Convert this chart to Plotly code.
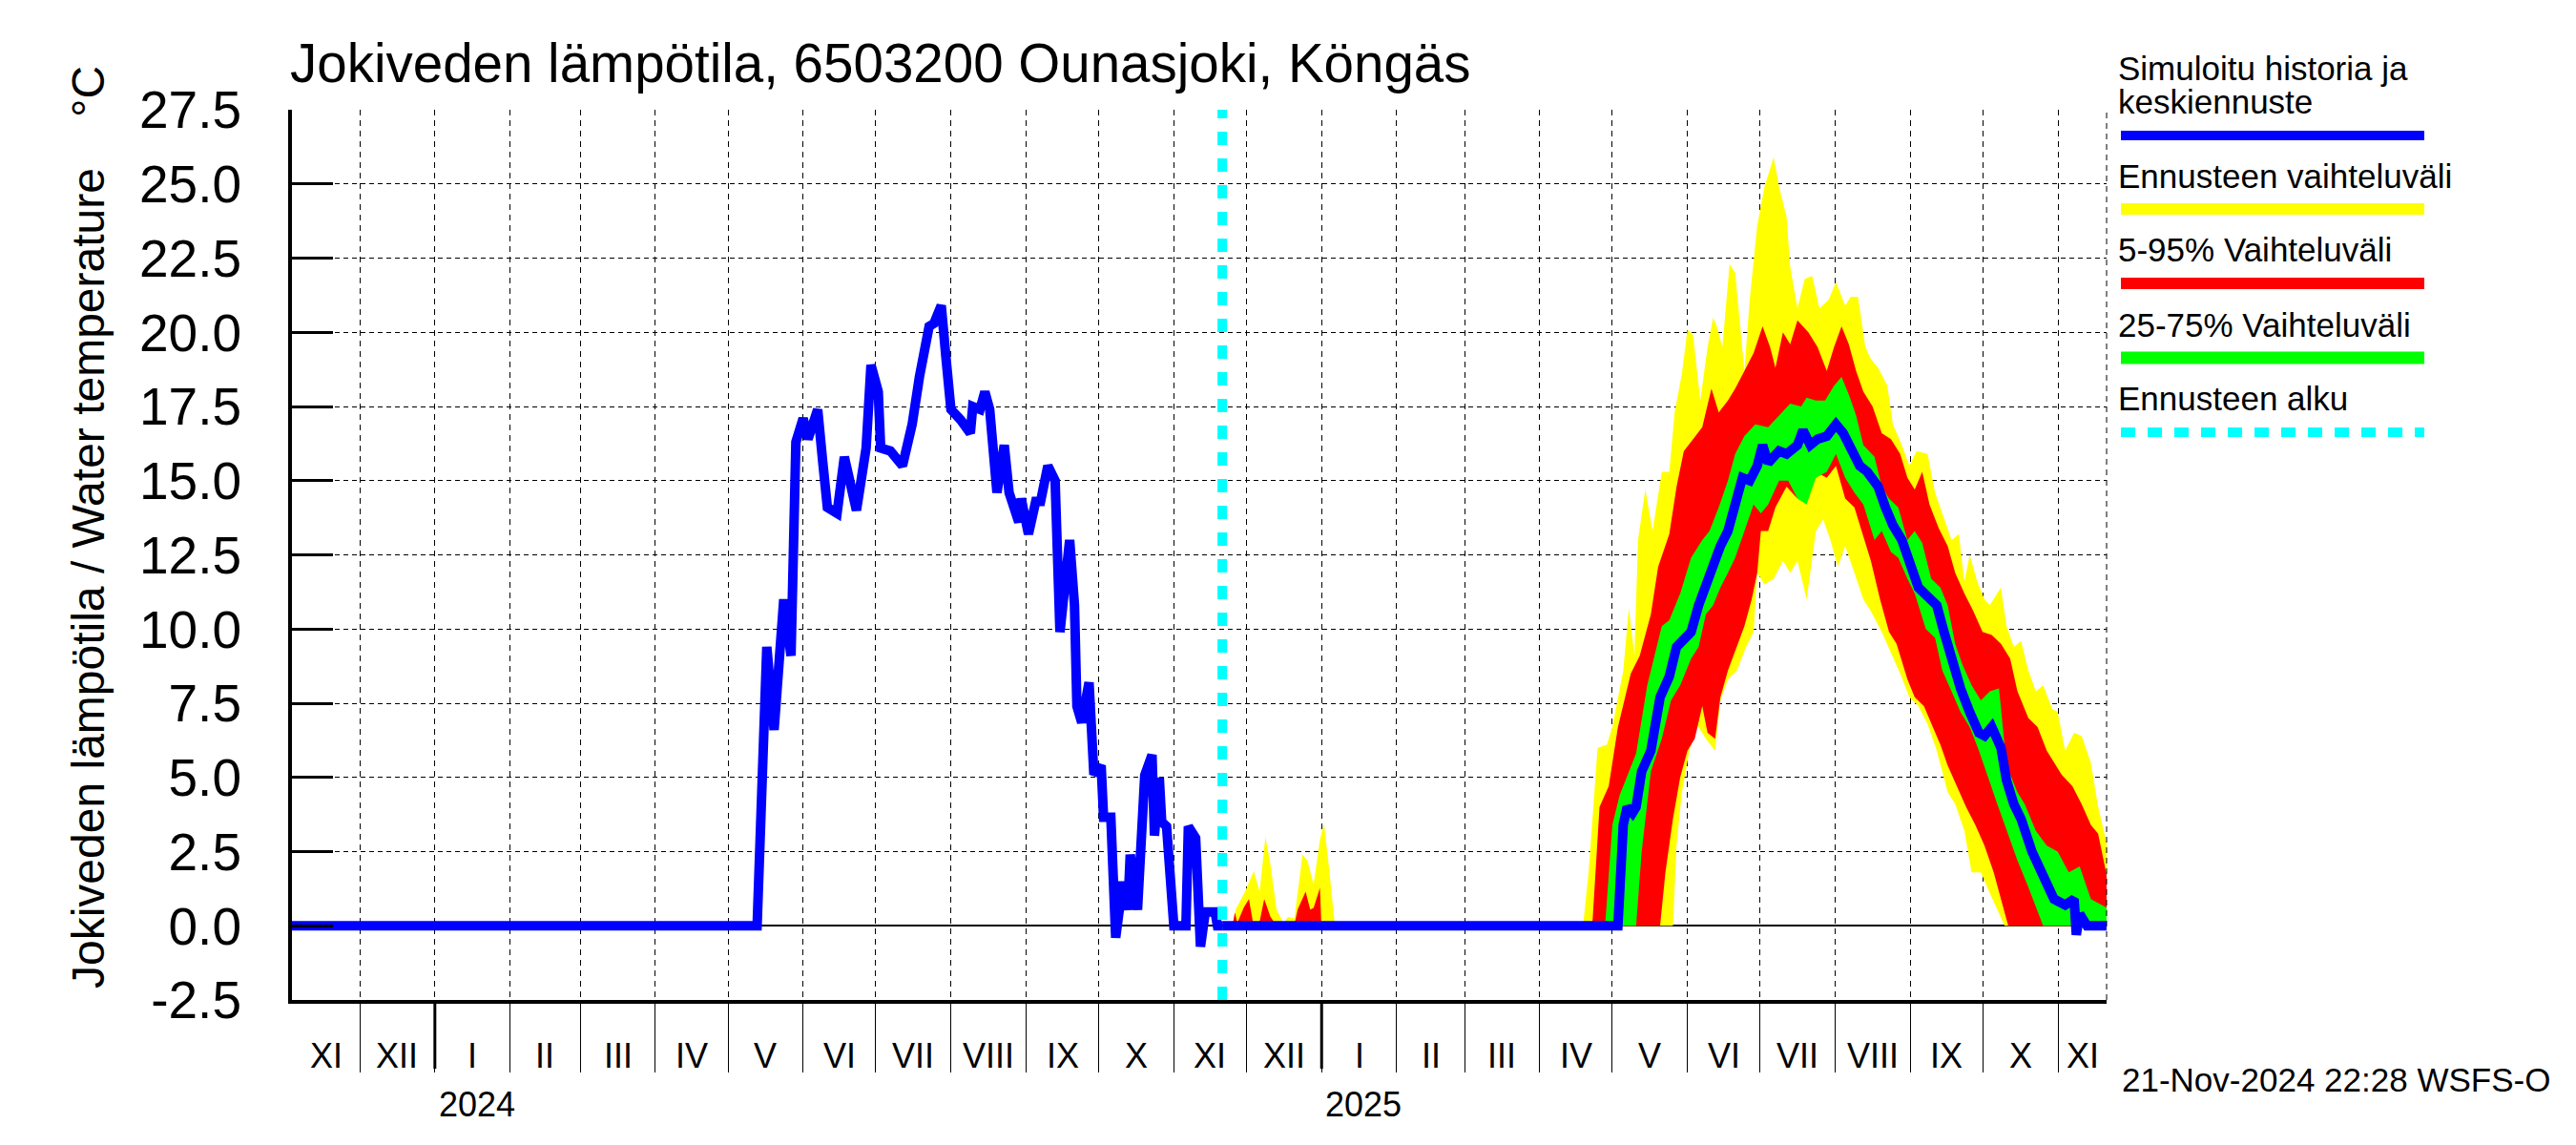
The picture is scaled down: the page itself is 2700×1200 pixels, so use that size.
import numpy as np
import pandas as pd
import plotly.graph_objects as go

# ---------------- data ----------------
X_START = "2023-11-03"
X_END = "2025-11-21"
FC_START = "2024-11-21"
SEASON_BASE = "2025-05-01"   # season arrays: days since this date
WINTER_BASE = "2024-11-21"   # winter arrays: days since this date

HIST_DATES = ["2023-11-03", "2024-05-13", "2024-05-17", "2024-05-20", "2024-05-24", "2024-05-27",
              "2024-05-29", "2024-06-01", "2024-06-03", "2024-06-07", "2024-06-09", "2024-06-11",
              "2024-06-15", "2024-06-18", "2024-06-23", "2024-06-27", "2024-06-29", "2024-07-02",
              "2024-07-03", "2024-07-07", "2024-07-12", "2024-07-16", "2024-07-19", "2024-07-23",
              "2024-07-25", "2024-07-28", "2024-07-30", "2024-08-01", "2024-08-05", "2024-08-09",
              "2024-08-10", "2024-08-13", "2024-08-15", "2024-08-17", "2024-08-20", "2024-08-23",
              "2024-08-25", "2024-08-29", "2024-08-30", "2024-09-02", "2024-09-05", "2024-09-07",
              "2024-09-10", "2024-09-13", "2024-09-15", "2024-09-19", "2024-09-21", "2024-09-22",
              "2024-09-24", "2024-09-27", "2024-09-29", "2024-10-02", "2024-10-03", "2024-10-06",
              "2024-10-08", "2024-10-11", "2024-10-13", "2024-10-14", "2024-10-17", "2024-10-20",
              "2024-10-23", "2024-10-24", "2024-10-26", "2024-10-27", "2024-10-29", "2024-11-01",
              "2024-11-06", "2024-11-07", "2024-11-10", "2024-11-12", "2024-11-14", "2024-11-18",
              "2024-11-19", "2024-11-21"]
HIST_VALS = [0, 0, 9.4, 6.6, 11.0, 9.1, 16.3, 17.1, 16.4, 17.4, 15.7, 14.1, 13.9, 15.8, 14.0, 16.1,
             18.9, 18.0, 16.1, 16.0, 15.5, 16.9, 18.5, 20.2, 20.3, 20.9, 19.1, 17.4, 17.05, 16.6,
             17.5, 17.4, 18.0, 17.4, 14.6, 16.2, 14.6, 13.6, 14.4, 13.2, 14.3, 14.3, 15.5, 15.0,
             9.9, 13.0, 10.8, 7.4, 6.85, 8.2, 5.1, 5.4, 3.66, 3.66, -0.4, 1.48, 0.54, 2.4, 0.54,
             5.07, 5.76, 3.04, 4.99, 3.5, 3.35, 0, 0, 3.35, 2.96, -0.7, 0.47, 0.47, 0, 0]

# forecast median (days since SEASON_BASE)
MED_D = [-161, 2.3, 4.5, 6.1, 8.3, 9.8, 12.1, 15.9, 19.7, 23.5, 26.5, 29.5, 32.5, 35.6, 38.6, 41.6,
         44.6, 47.7, 50.7, 53.7, 56.7, 59.8, 62.0, 64.3, 68.8, 71.9, 76.4, 78.7, 81.7, 84.7, 88.5,
         92.3, 95.3, 99.1, 102.1, 105.2, 109.7, 112.7, 115.8, 119.5, 123.3, 126.3, 130.1, 133.9,
         136.9, 140.0, 143.7, 147.5, 151.3, 153.6, 156.6, 160.4, 162.7, 165.7, 168.7, 173.2,
         177.8, 182.3, 186.9, 190.6, 191.5, 192.9, 195.9, 204.3]
MED_V = [0, 0, 3.4, 4.0, 3.8, 4.0, 5.2, 5.9, 7.7, 8.4, 9.4, 9.6, 9.9, 10.8, 11.5, 12.3, 12.8, 13.3,
         14.1, 15.1, 15.0, 15.5, 16.2, 15.6, 16.0, 15.9, 16.2, 16.7, 16.2, 16.4, 16.5, 16.9, 16.6,
         16.0, 15.5, 15.3, 14.8, 14.1, 13.5, 13.0, 12.1, 11.4, 11.1, 10.8, 9.9, 9.0, 8.0, 7.2,
         6.5, 6.4, 6.7, 6.0, 4.9, 4.1, 3.6, 2.5, 1.6, 0.9, 0.7, 0.9, -0.3, 0.4, 0, 0]

# whole ensemble range (yellow)
YEL_HI_D = [-12.1, -9.8, -6.1, -2.3, 0, 4.5, 6.8, 9.1, 10.6, 13.6, 16.6, 20.4, 23.5, 25.7, 28.7,
            31.0, 33.3, 36.3, 39.3, 41.6, 43.1, 45.4, 48.4, 50.7, 54.5, 56.7, 59.8, 62.8, 66.6,
            68.8, 71.9, 73.4, 76.4, 79.4, 82.5, 85.5, 89.3, 92.3, 96.1, 98.4, 101.4, 104.4, 106.7,
            109.7, 113.5, 115.8, 119.5, 122.6, 125.6, 130.1, 133.2, 136.9, 140.0, 143.0, 145.3,
            147.5, 150.6, 153.6, 155.8, 160.4, 162.7, 165.7, 168.7, 171.7, 174.8, 177.8, 181.6,
            183.8, 186.9, 190.6, 193.7, 197.5, 200.5, 204.3]
YEL_HI_V = [0, 1.8, 6.0, 6.1, 6.7, 8.6, 10.7, 9.1, 13.0, 14.7, 13.3, 15.3, 15.3, 17.3, 18.6, 20.1,
            19.9, 17.7, 19.5, 20.5, 20.2, 19.5, 22.3, 22.0, 18.7, 21.1, 23.6, 24.9, 25.9, 24.9, 23.9,
            22.2, 20.8, 21.8, 21.9, 20.8, 21.1, 21.7, 20.9, 21.2, 21.2, 19.5, 19.1, 18.8, 18.2,
            16.9, 16.2, 15.5, 16.0, 15.9, 14.6, 13.7, 13.0, 13.2, 11.6, 12.5, 11.6, 11.0, 10.8,
            11.4, 10.1, 9.4, 9.6, 8.6, 7.9, 8.1, 7.3, 7.2, 5.9, 6.5, 6.4, 5.5, 4.0, 2.7]
YEL_LO_D = [-12.1, 25.0, 26.5, 28.7, 31.8, 34.8, 38.6, 42.4, 44.6, 47.7, 51.4, 55.2, 58.3, 59.8,
            62.8, 66.6, 70.4, 73.4, 76.4, 80.2, 84.0, 87.0, 90.0, 93.1, 96.1, 99.9, 103.6, 106.7,
            111.2, 115.0, 118.8, 122.6, 126.3, 130.1, 133.9, 138.4, 141.5, 145.3, 148.3, 152.1,
            155.8, 159.6, 161.9, 204.3]
YEL_LO_V = [0, 0, 2.7, 4.5, 5.9, 6.8, 6.3, 5.9, 7.6, 8.3, 8.6, 9.4, 9.9, 11.9, 11.5, 11.7, 12.3,
            11.9, 12.3, 11.0, 13.3, 13.7, 13.0, 12.1, 12.8, 11.9, 11.0, 10.6, 9.9, 9.2, 8.5, 7.7,
            7.4, 6.8, 5.9, 4.5, 4.1, 3.2, 1.8, 1.8, 1.1, 0.4, 0, 0]

# 5-95 % range (red)
RED_HI_D = [-8.3, -5.3, -1.5, 2.3, 7.6, 11.3, 15.9, 18.9, 23.5, 26.5, 29.5, 33.3, 37.1, 40.9, 43.9,
            47.7, 50.7, 54.5, 58.3, 62.0, 65.1, 67.3, 70.4, 73.4, 76.4, 80.9, 84.7, 88.5, 91.5,
            94.6, 97.6, 100.6, 103.6, 107.4, 111.2, 115.0, 118.8, 121.8, 124.8, 127.9, 130.9,
            134.7, 138.4, 141.5, 145.3, 149.0, 152.8, 156.6, 160.4, 164.2, 167.2, 171.7, 175.5,
            179.3, 183.1, 185.4, 189.9, 193.7, 197.5, 200.5, 204.3]
RED_HI_V = [0, 4.0, 4.7, 6.7, 8.5, 9.1, 10.5, 12.1, 13.2, 14.8, 16.0, 16.4, 16.8, 18.1, 17.3, 17.7,
            18.1, 18.7, 19.3, 20.2, 19.5, 18.8, 20.0, 19.6, 20.4, 20.0, 19.5, 18.7, 19.5, 20.2, 19.6,
            18.7, 18.0, 17.5, 16.6, 16.4, 15.9, 15.1, 14.7, 15.3, 14.2, 13.4, 12.8, 11.9, 11.2, 10.6,
            9.9, 9.8, 9.5, 9.0, 7.9, 7.0, 6.7, 5.9, 5.4, 5.1, 4.7, 4.1, 3.4, 3.1, 1.6]
RED_LO_D = [-8.3, 19.7, 21.9, 25.0, 28.0, 31.0, 34.0, 37.1, 39.3, 42.4, 44.6, 47.7, 51.4, 54.5,
            57.5, 59.8, 61.3, 64.3, 67.3, 71.9, 76.4, 79.4, 84.0, 88.5, 92.3, 96.1, 99.9, 102.9,
            106.7, 110.5, 114.2, 117.3, 121.8, 124.8, 128.6, 132.4, 135.4, 138.4, 142.2, 146.0,
            149.8, 153.6, 157.4, 161.1, 163.4, 204.3]
RED_LO_V = [0, 0, 1.8, 3.6, 5.0, 5.9, 6.3, 7.4, 6.5, 6.3, 7.7, 8.6, 9.4, 10.1, 11.0, 11.9, 13.3,
            13.3, 14.1, 14.8, 14.4, 14.6, 15.3, 15.1, 15.5, 14.4, 14.1, 13.3, 12.3, 11.0, 9.9, 9.5,
            8.3, 7.7, 7.4, 6.7, 6.1, 5.4, 4.7, 4.0, 3.4, 2.7, 1.8, 0.7, 0, 0]

# 25-75 % range (green)
GRN_HI_D = [-3.0, 0, 3.0, 6.8, 9.8, 14.4, 17.4, 20.4, 23.5, 28.0, 32.5, 37.1, 40.1, 43.9, 47.7,
            50.7, 54.5, 59.0, 64.3, 68.8, 73.4, 77.9, 80.2, 84.0, 87.8, 91.5, 94.6, 97.6, 100.6,
            103.6, 108.2, 111.2, 114.2, 118.0, 121.8, 124.8, 127.9, 131.6, 135.4, 138.4, 141.5,
            144.5, 148.3, 152.1, 155.8, 159.6, 162.7, 167.2, 170.2, 174.8, 179.3, 183.8, 188.4,
            192.9, 197.5, 204.3]
GRN_HI_V = [0, 3.4, 4.4, 5.2, 5.8, 8.1, 9.1, 10.1, 10.3, 11.2, 12.4, 13.0, 13.3, 14.1, 15.0, 15.9,
            16.5, 16.9, 16.8, 17.2, 17.6, 17.5, 17.8, 17.7, 17.7, 18.2, 18.5, 17.9, 17.2, 16.2, 15.8,
            14.8, 14.4, 14.1, 13.0, 13.3, 12.9, 11.7, 11.4, 10.8, 9.5, 8.8, 8.1, 7.6, 7.9, 8.0, 5.4,
            4.5, 4.1, 3.2, 2.7, 2.5, 1.8, 2.0, 0.9, 0.6]
GRN_LO_D = [-3.0, 9.8, 12.1, 15.9, 20.4, 24.2, 28.0, 32.5, 35.6, 38.6, 41.6, 44.6, 47.7, 50.7,
            54.5, 58.3, 61.3, 64.3, 68.8, 72.6, 76.4, 80.2, 84.0, 88.5, 92.3, 96.1, 99.9, 103.6,
            108.2, 111.2, 115.0, 118.0, 121.8, 124.8, 129.4, 133.2, 136.2, 140.0, 143.7, 147.5,
            151.3, 155.1, 158.9, 162.7, 167.2, 171.7, 175.5, 177.8, 204.3]
GRN_LO_V = [0, 0, 2.5, 5.2, 6.3, 7.6, 8.1, 9.0, 9.4, 10.5, 10.8, 11.4, 11.9, 12.4, 13.3, 14.2, 13.9,
            14.2, 15.0, 15.0, 14.4, 14.2, 15.1, 15.3, 15.9, 15.1, 14.6, 14.2, 13.0, 13.3, 12.6, 12.4,
            11.7, 11.2, 10.0, 9.7, 8.6, 7.9, 7.2, 6.7, 5.9, 5.0, 4.1, 3.2, 2.2, 1.3, 0.5, 0, 0]

# early-winter bumps (days since WINTER_BASE), lower bound is 0
YEL_W_D = [4.2, 5.5, 9.4, 13.0, 15.4, 17.8, 19.9, 22.4, 25.2, 27.1, 29.8, 33.1, 35.1, 37.7, 40.3,
           42.0, 44.2, 46.2, 46.5]
YEL_W_V = [0, 0.55, 1.15, 1.85, 1.15, 3.0, 2.06, 0.55, 0.1, 0.3, 0.25, 2.4, 2.2, 1.4, 2.9, 3.45,
           1.85, 0.1, 0]
RED_W_D = [4.2, 5.2, 6.2, 8.8, 11.0, 12.7, 15.3, 17.3, 19.9, 22.1, 29.8, 31.1, 34.4, 36.3, 37.7,
           40.3, 40.9]
RED_W_V = [0, 0.45, 0.1, 0.6, 0.9, 0.1, 0.1, 0.9, 0.3, 0.05, 0.05, 0.55, 1.15, 0.55, 0.6, 1.28, 0]

Y_TICKS = [-2.5, 0.0, 2.5, 5.0, 7.5, 10.0, 12.5, 15.0, 17.5, 20.0, 22.5, 25.0, 27.5]
ROMAN = ["I", "II", "III", "IV", "V", "VI", "VII", "VIII", "IX", "X", "XI", "XII"]
YEARS = ["2024", "2025"]

TITLE = "Jokiveden lämpötila, 6503200 Ounasjoki, Köngäs"
Y_TITLE = "Jokiveden lämpötila / Water temperature\u00a0\u00a0\u00a0\u00a0°C"
STAMP = "21-Nov-2024 22:28 WSFS-O"
LEGEND = [("Simuloitu historia ja", "keskiennuste", "#0000ff"),
          ("Ennusteen vaihteluväli", None, "#ffff00"),
          ("5-95% Vaihteluväli", None, "#ff0000"),
          ("25-75% Vaihteluväli", None, "#00ff00"),
          ("Ennusteen alku", None, "#00ffff")]

# ---------------- geometry (page pixels; page body has an 8 px margin) ----------------
FONT = "Liberation Sans, Arial, Helvetica, sans-serif"
OFF = 8
W, H = 2700 - 2 * OFF, 1200 - 2 * OFF
PL, PR, PT, PB = 306, 2208, 115, 1048   # plot box in page pixels


def px_x(px):
    return (px - PL) / (PR - PL)


def px_y(py):
    return (PB - py) / (PB - PT)


def days(base, d):
    return pd.Timestamp(base) + pd.to_timedelta(np.asarray(d, dtype=float), unit="D")


def band(hd, hv, ld, lv, base):
    xs = list(days(base, hd)) + list(days(base, ld))[::-1]
    ys = list(hv) + list(lv)[::-1]
    return xs, ys


fig = go.Figure()


def add_fill(xs, ys, col):
    fig.add_trace(go.Scatter(x=xs, y=ys, fill="toself", fillcolor=col, mode="lines",
                             line=dict(width=0, color=col), hoverinfo="skip"))


add_fill(*band(YEL_HI_D, YEL_HI_V, YEL_LO_D, YEL_LO_V, SEASON_BASE), "#ffff00")
add_fill(*band(YEL_W_D, YEL_W_V, [YEL_W_D[0], YEL_W_D[-1]], [0, 0], WINTER_BASE), "#ffff00")
add_fill(*band(RED_HI_D, RED_HI_V, RED_LO_D, RED_LO_V, SEASON_BASE), "#ff0000")
add_fill(*band(RED_W_D, RED_W_V, [RED_W_D[0], RED_W_D[-1]], [0, 0], WINTER_BASE), "#ff0000")
add_fill(*band(GRN_HI_D, GRN_HI_V, GRN_LO_D, GRN_LO_V, SEASON_BASE), "#00ff00")

fig.add_trace(go.Scatter(x=pd.to_datetime(HIST_DATES), y=HIST_VALS, mode="lines",
                         line=dict(color="#0000ff", width=10), hoverinfo="skip"))
fig.add_trace(go.Scatter(x=days(SEASON_BASE, MED_D), y=MED_V, mode="lines",
                         line=dict(color="#0000ff", width=10), hoverinfo="skip"))
fig.add_trace(go.Scatter(x=[pd.Timestamp(FC_START)] * 2, y=[Y_TICKS[0], Y_TICKS[-1]], mode="lines",
                         line=dict(color="#00ffff", width=10, dash="14px,14px"), hoverinfo="skip"))

# ---------------- axes ----------------
x0, x1 = pd.Timestamp(X_START), pd.Timestamp(X_END)
month_starts = pd.date_range("2023-11-01", "2025-12-01", freq="MS")
grid_vals, lab_pos, lab_txt = [], [], []
for a, b in zip(month_starts[:-1], month_starts[1:]):
    lo, hi = max(a, x0), min(b, x1)
    if hi > lo:
        lab_pos.append(lo + (hi - lo) / 2)
        lab_txt.append(ROMAN[a.month - 1])
    if x0 < a < x1:
        grid_vals.append(a)
year_starts = [pd.Timestamp(y + "-01-01") for y in YEARS]

fig.update_layout(
    width=W, height=H,
    margin=dict(l=PL - OFF, r=W - (PR - OFF), t=PT - OFF, b=H - (PB - OFF), pad=0),
    paper_bgcolor="white", plot_bgcolor="white",
    showlegend=False,
    font=dict(family=FONT, color="black"),
    xaxis=dict(type="date", range=[x0, x1], tickvals=grid_vals, ticktext=[""] * len(grid_vals),
               ticks="outside", ticklen=72, tickwidth=1, tickcolor="black",
               showgrid=True, gridcolor="black", gridwidth=1, griddash="6px,5px",
               showline=True, linecolor="black", linewidth=4, zeroline=False,
               showticklabels=False, fixedrange=True),
    yaxis=dict(range=[Y_TICKS[0], Y_TICKS[-1]], tickvals=Y_TICKS,
               ticktext=[f"{v:.1f}" for v in Y_TICKS],
               ticks="inside", ticklen=43, tickwidth=3, tickcolor="black",
               showgrid=True, gridcolor="black", gridwidth=1, griddash="5px,4px",
               zeroline=True, zerolinecolor="black", zerolinewidth=1.5,
               showline=True, linecolor="black", linewidth=4,
               tickfont=dict(size=55, family=FONT), ticklabelstandoff=38),
)

# right frame edge (dashed)
fig.add_shape(type="line", xref="paper", yref="paper", x0=1, x1=1, y0=0, y1=1,
              line=dict(color="black", width=1, dash="6px,5px"))
# heavier year ticks below the axis
for ys_ in year_starts:
    fig.add_shape(type="line", xref="x", yref="paper", x0=ys_, x1=ys_, y0=0, y1=px_y(1120),
                  line=dict(color="black", width=3))

ann = []
ann.append(dict(text=TITLE, xref="paper", yref="paper", x=0, y=1, xanchor="left", yanchor="bottom",
                xshift=-4, yshift=15, showarrow=False, font=dict(size=56.5, family=FONT)))
ann.append(dict(text=Y_TITLE, xref="paper", yref="paper", x=px_x(92), y=px_y(553),
                xanchor="center", yanchor="middle", textangle=-90, showarrow=False,
                font=dict(size=48, family=FONT)))
for pos, txt in zip(lab_pos, lab_txt):
    ann.append(dict(text=txt, xref="x", yref="paper", x=pos, y=px_y(1106), xanchor="center",
                    yanchor="middle", showarrow=False, font=dict(size=36, family=FONT)))
for yr, ys_ in zip(YEARS, year_starts):
    ann.append(dict(text=yr, xref="x", yref="paper", x=ys_, y=px_y(1157), xanchor="left",
                    yanchor="middle", xshift=2, showarrow=False, font=dict(size=36, family=FONT)))
ann.append(dict(text=STAMP, xref="paper", yref="paper", x=px_x(2222), y=px_y(1131),
                xanchor="left", yanchor="middle", showarrow=False, font=dict(size=35, family=FONT)))

# legend (manual, like the reference)
leg_text_base = [(83, 118), (196,), (274,), (352,), (429,)]
leg_line_y = [142, 219, 297, 375, 453]
leg_line_w = [10, 12, 12, 13, 10]
for (t1, t2, col), bases, ly, lw in zip(LEGEND, leg_text_base, leg_line_y, leg_line_w):
    texts = [t1] + ([t2] if t2 else [])
    for txt, bl in zip(texts, bases):
        ann.append(dict(text=txt, xref="paper", yref="paper", x=px_x(2218), y=px_y(bl - 12),
                        xanchor="left", yanchor="middle", showarrow=False,
                        font=dict(size=35, family=FONT)))
    dash = "15px,13px" if col == "#00ffff" else "solid"
    fig.add_shape(type="line", xref="paper", yref="paper", x0=px_x(2223), x1=px_x(2541),
                  y0=px_y(ly), y1=px_y(ly), line=dict(color=col, width=lw, dash=dash))

fig.update_layout(annotations=ann)
fig.write_html("out.html")
